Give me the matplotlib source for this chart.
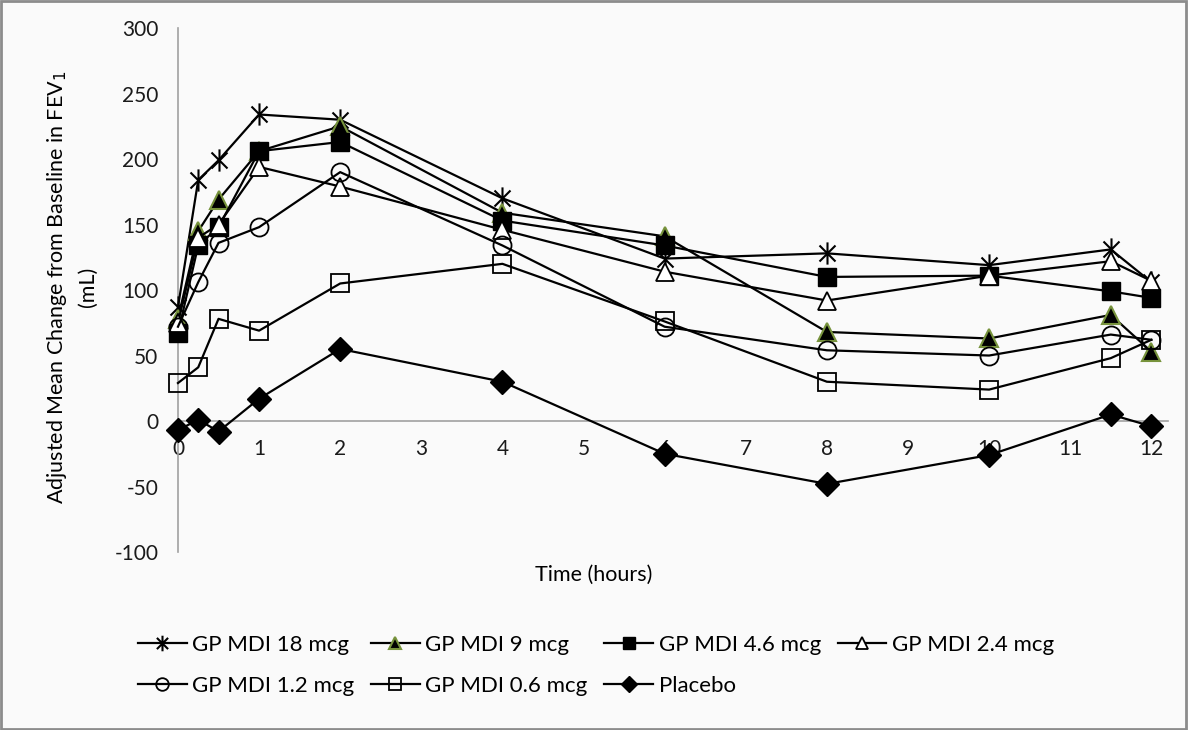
import matplotlib
matplotlib.use("Agg")
import matplotlib.pyplot as plt
from matplotlib.path import Path
from matplotlib.patches import Rectangle

hours = [0, 0.25, 0.5, 1, 2, 4, 6, 8, 10, 11.5, 12]
series_names = ["GP MDI 18 mcg", "GP MDI 9 mcg", "GP MDI 4.6 mcg", "GP MDI 2.4 mcg",
                "GP MDI 1.2 mcg", "GP MDI 0.6 mcg", "Placebo"]
gp_18 = [87, 184, 199, 234, 230, 170, 124, 128, 119, 131, 106]
gp_9 = [78, 145, 169, 206, 225, 159, 141, 68, 63, 81, 53]
gp_4_6 = [67, 134, 148, 206, 213, 153, 134, 110, 111, 99, 94]
gp_2_4 = [75, 140, 150, 194, 179, 146, 114, 92, 111, 122, 107]
gp_1_2 = [72, 106, 136, 148, 190, 134, 72, 54, 50, 66, 62]
gp_0_6 = [29, 41, 78, 69, 105, 120, 76, 30, 24, 48, 62]
placebo = [-7, 1, -8, 17, 55, 30, -25, -48, -26, 5, -4]
y_ticks = [-100, -50, 0, 50, 100, 150, 200, 250, 300]
x_ticks = list(range(0, 13))

plt.rcParams['font.family'] = ['Lato', 'DejaVu Sans']
plt.rcParams['axes.unicode_minus'] = False

asterisk = Path([(0, -1), (0, 1), (-0.72, -0.72), (0.72, 0.72), (-0.72, 0.72), (0.72, -0.72)],
                [Path.MOVETO, Path.LINETO, Path.MOVETO, Path.LINETO, Path.MOVETO, Path.LINETO])

fig = plt.figure(figsize=(11.88, 7.30), dpi=100, facecolor='#fafafa')
ax = fig.add_axes([0.1498, 0.2438, 0.833, 0.7178])
ax.set_facecolor('#fafafa')

styles = [
    dict(marker=asterisk, ms=16, mfc='none', mec='black', mew=1.5),
    dict(marker='^', ms=13, mfc='black', mec='#77933C', mew=1.5),
    dict(marker='s', ms=13, mfc='black', mec='black', mew=1),
    dict(marker='^', ms=13, mfc='white', mec='black', mew=1.3),
    dict(marker='o', ms=13, mfc='none', mec='black', mew=1.3),
    dict(marker='s', ms=13, mfc='none', mec='black', mew=1.3),
    dict(marker='D', ms=12, mfc='black', mec='black', mew=1),
]
data = [gp_18, gp_9, gp_4_6, gp_2_4, gp_1_2, gp_0_6, placebo]
handles = []
for name, vals, st in zip(series_names, data, styles):
    h, = ax.plot(hours, vals, color='black', lw=1.6, label=name, zorder=3, clip_on=False, **st)
    handles.append(h)

ax.set_xlim(0, 12.2)
ax.set_ylim(-100, 300)
ax.set_yticks(y_ticks)
ax.set_xticks(x_ticks)
for s in ['top', 'right']:
    ax.spines[s].set_visible(False)
ax.spines['bottom'].set_position(('data', 0))
ax.spines['left'].set_color('#a0a0a0')
ax.spines['bottom'].set_color('#a0a0a0')
ax.spines['left'].set_linewidth(1.2)
ax.spines['bottom'].set_linewidth(1.2)
ax.tick_params(axis='both', length=0, labelsize=15, colors='#1a1a1a')
ax.tick_params(axis='x', pad=13)
ax.tick_params(axis='y', pad=14)
ax.xaxis.set_zorder(1)

fig.text(0.5, (730 - 575) / 730, "Time (hours)", ha='center', va='center', fontsize=15.5)
fig.text(0.048, 0.607, "Adjusted Mean Change from Baseline in FEV$_1$", rotation=90,
         ha='center', va='center', fontsize=15.5)
fig.text(0.074, 0.607, "(mL)", rotation=90, ha='center', va='center', fontsize=15.5)

order = [0, 4, 1, 5, 2, 6, 3]
leg = fig.legend([handles[i] for i in order], [series_names[i] for i in order],
                 ncol=4, loc='upper left', bbox_to_anchor=(0.099, 0.158), frameon=False,
                 fontsize=16, handlelength=2.2, handletextpad=0.25, columnspacing=0.75,
                 labelspacing=0.95, markerscale=0.7)

fig.patches.append(Rectangle((0.001, 0.002), 0.997, 0.996, transform=fig.transFigure,
                             fill=False, edgecolor='#8c8c8c', lw=2))

fig.savefig("out.png", dpi=100, facecolor=fig.get_facecolor())
